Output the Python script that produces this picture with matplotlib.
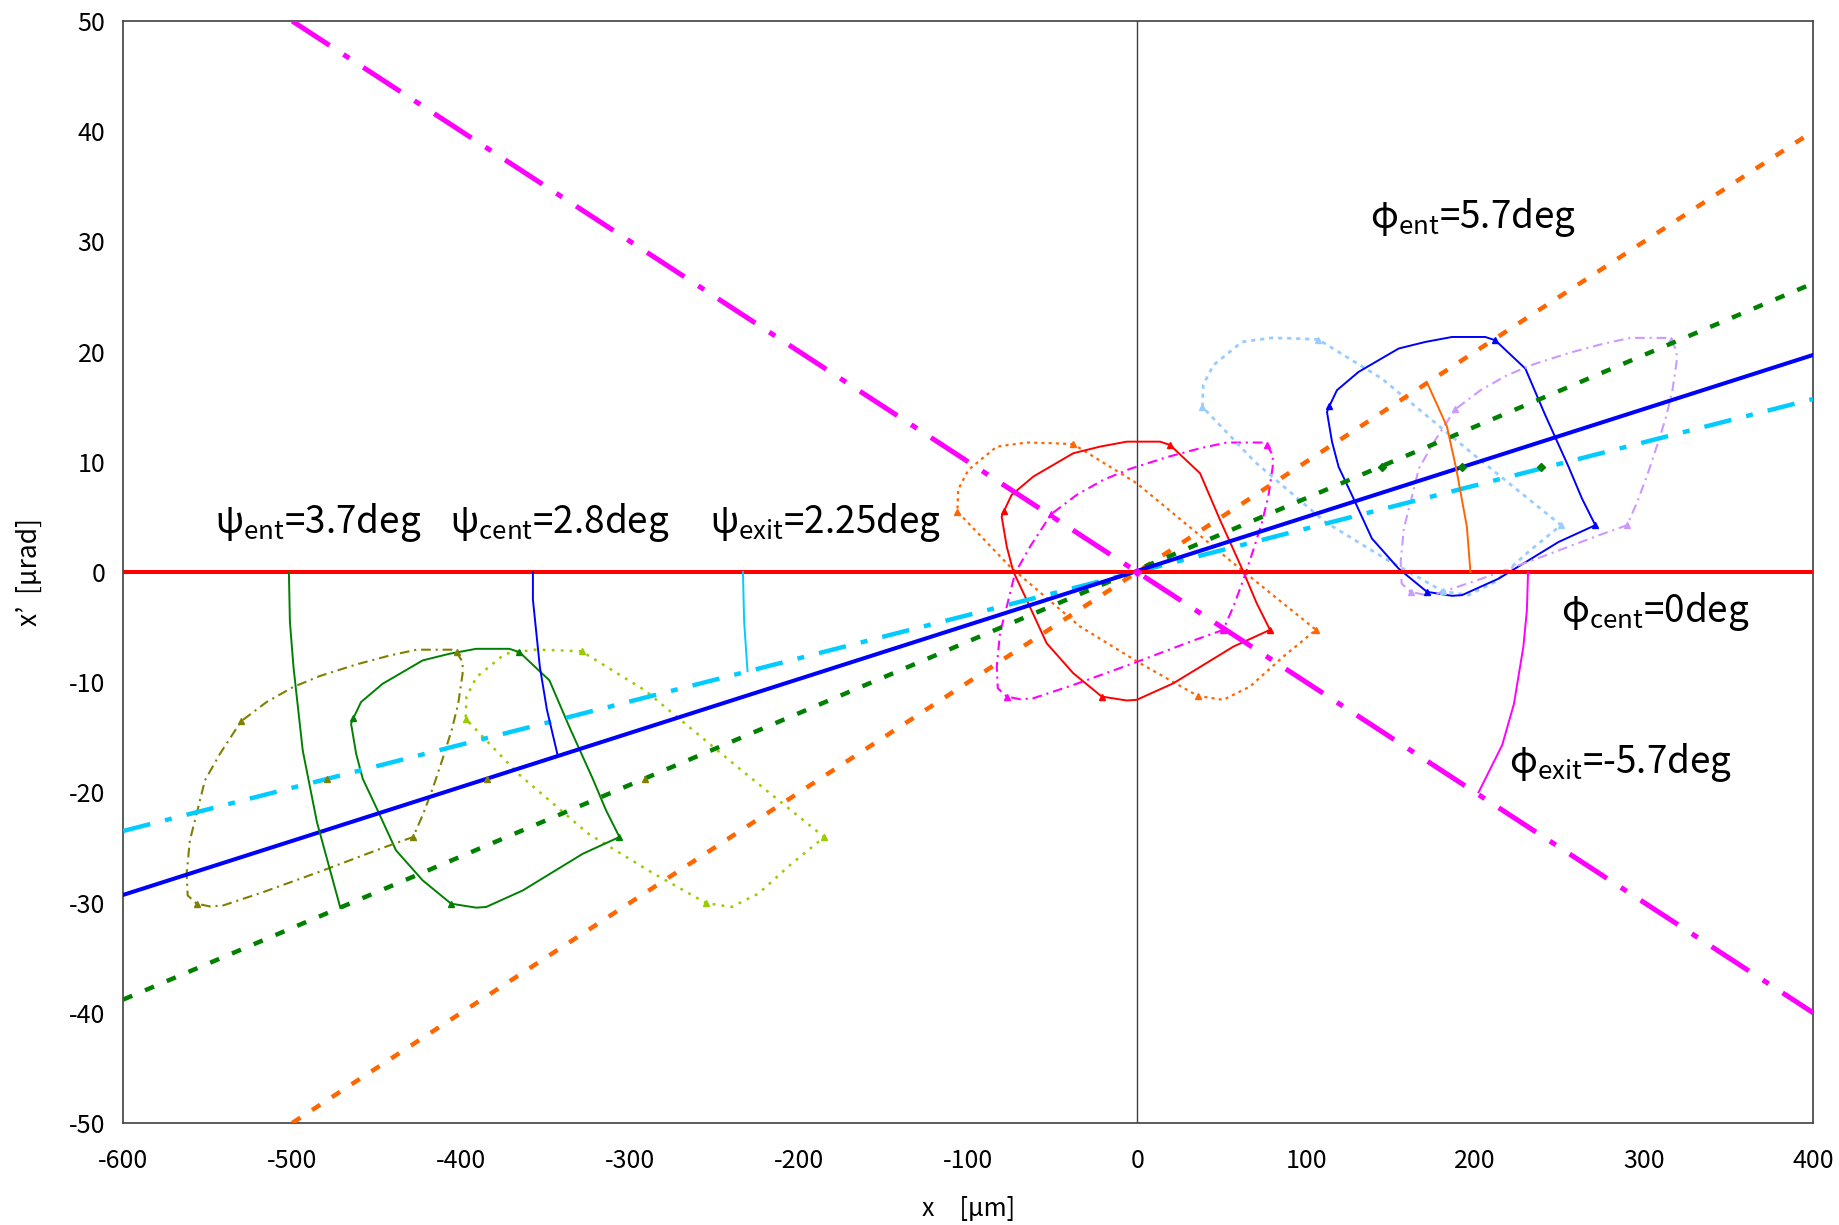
import matplotlib
matplotlib.use('Agg')
import matplotlib.pyplot as plt
import numpy as np

plt.rcParams['font.family'] = ['Noto Sans CJK JP', 'DejaVu Sans']
plt.rcParams['axes.unicode_minus'] = False
plt.rcParams['mathtext.fontset'] = 'custom'
plt.rcParams['mathtext.rm'] = 'Noto Sans CJK JP'
plt.rcParams['mathtext.it'] = 'Noto Sans CJK JP'
plt.rcParams['lines.scale_dashes'] = False

# --- straight lines (end points) ---
full_x = [-600, 400]
psi_ent_y = [-38.8, 26.2]
psi_cent_y = [-29.3, 19.7]
psi_exit_y = [-23.5, 15.7]
phi_cent_y = [0.0, 0.0]
phi_ent_x = [-500, 400]
phi_ent_y = [-50, 40]
phi_exit_x = [-500, 400]
phi_exit_y = [50, -40]

# --- thin angle arcs ---
arc_psi_ent_x = [-502, -501.4, -499.3, -493.8, -485.4, -471.5]
arc_psi_ent_y = [0, -4.5, -8.6, -16.2, -22.7, -30.5]
arc_psi_cent_x = [-357.6, -357.6, -353.5, -349.3, -343]
arc_psi_cent_y = [0, -2.5, -8.6, -12.5, -16.6]
arc_psi_exit_x = [-233.3, -232.6, -230.6]
arc_psi_exit_y = [0, -4.5, -9.0]
arc_phi_ent_x = [171.5, 183.3, 188.9, 195.1, 197.2]
arc_phi_ent_y = [17.2, 13.2, 9.3, 4.1, 0.0]
arc_phi_exit_x = [231.3, 230.6, 228.5, 222.9, 216, 202]
arc_phi_exit_y = [0, -3.5, -6.8, -12.0, -15.7, -20.0]

# --- beam outlines, relative to their centre ---
shape_a_x = [-37.8, -52, -65.4, -83.1, -99.9, -105.9, -106.4, -75.3, -33.8, 1.7,
             35.8, 50.9, 66.7, 86.5, 105.8, 56.9, -0.3, -37.8]
shape_a_y = [11.6, 11.7, 11.75, 11.38, 9.27, 7.5, 5.48, 0.49, -4.95, -8.28,
             -11.24, -11.6, -10.4, -7.67, -5.25, 0.8, 8.06, 11.6]
shape_a_corners = [0, 6, 10, 14]

shape_b_x = [19.4, 37.2, 49, 62.8, 70.7, 78.6, 56.9, 21.4, -0.3, -6.2, -21, -37.8,
             -53.6, -65.4, -73.3, -77.2, -80.2, -78.8, -74.3, -61.5, -37.8, -22,
             -6.2, 13.5, 19.4]
shape_b_y = [11.53, 8.96, 4.73, 0.04, -2.83, -5.25, -6.77, -10.1, -11.6, -11.66, -11.3,
             -9.19, -6.46, -2.53, 0.04, 2.31, 5.03, 5.55, 7.0, 8.66, 10.78, 11.38,
             11.83, 11.83, 11.53]
shape_b_corners = [0, 5, 10, 17]

shape_c_x = [76.6, 80.2, 80.2, 77.6, 73.7, 68.7, 62.8, 56.9, 50.9, 33.2, -2.3, -37.8,
             -61.5, -69.3, -77.2, -82.5, -83.1, -81.2, -77.2, -72.3, -63.4, -50.9,
             -35.8, -20.1, -4.3, 17.5, 37.2, 53, 73.7, 76.6]
shape_c_y = [11.53, 10.63, 9.57, 6.85, 4.43, 2.0, -0.72, -3.14, -5.25, -6.22, -8.28,
             -10.25, -11.46, -11.55, -11.3, -10.55, -8.58, -5.56, -3.14, -0.11, 2.3,
             5.25, 7.0, 8.36, 9.36, 10.42, 11.23, 11.75, 11.75, 11.53]
shape_c_corners = [0, 8, 14, 21]

# centres of the beam outlines
left_cx = [-291, -385, -479.4]
left_cy = -18.8
mid_cx = [0, 0, 0]
mid_cy = 0.0
right_cx = [145, 192.5, 239]
right_cy = 9.5

fig = plt.figure(figsize=(18.4, 12.25), dpi=100)
ax = fig.add_axes([0.067, 0.0833, 0.9184, 0.8995])

# thin beam outlines
shapes = [
    (shape_a_x, shape_a_y, shape_a_corners, left_cx[0], left_cy, '#99CC00', (0, (2, 4.5)), 1.8),
    (shape_b_x, shape_b_y, shape_b_corners, left_cx[1], left_cy, '#008000', '-', 1.4),
    (shape_c_x, shape_c_y, shape_c_corners, left_cx[2], left_cy, '#808000', (0, (7, 3.5, 1.5, 3.5)), 1.5),
    (shape_a_x, shape_a_y, shape_a_corners, mid_cx[0], mid_cy, '#FF6600', (0, (2.2, 3)), 1.6),
    (shape_b_x, shape_b_y, shape_b_corners, mid_cx[1], mid_cy, '#FF0000', '-', 1.4),
    (shape_c_x, shape_c_y, shape_c_corners, mid_cx[2], mid_cy, '#FF00FF', (0, (7, 3.5, 1.5, 3.5)), 1.5),
    (shape_a_x, shape_a_y, shape_a_corners, right_cx[0], right_cy, '#99CCFF', (0, (3, 3.5)), 2.0),
    (shape_b_x, shape_b_y, shape_b_corners, right_cx[1], right_cy, '#0000FF', '-', 1.4),
    (shape_c_x, shape_c_y, shape_c_corners, right_cx[2], right_cy, '#CC99FF', (0, (7, 3.5, 1.5, 3.5)), 1.5),
]
for sx, sy, corners, cx, cy, col, ls, lw in shapes:
    px = np.array(sx) + cx
    py = np.array(sy) + cy
    ax.plot(px, py, color=col, linestyle=ls, linewidth=lw, zorder=3)
    ax.plot(px[corners], py[corners], linestyle='none', marker='^', markersize=4,
            color=col, zorder=4)

# thick lines
ax.plot(phi_exit_x, phi_exit_y, color='#FF00FF', linewidth=3.6,
        linestyle=(0, (32, 12, 5, 12)), zorder=5)
ax.plot(phi_ent_x, phi_ent_y, color='#FF6600', linewidth=3.2,
        linestyle=(0, (7, 10)), zorder=5)
ax.plot(full_x, psi_ent_y, color='#008000', linewidth=3.2,
        linestyle=(0, (7, 10)), zorder=5)
ax.plot(full_x, psi_exit_y, color='#00CCFF', linewidth=3.2,
        linestyle=(0, (20, 11, 5, 11)), zorder=5)
ax.plot(full_x, psi_cent_y, color='#0000FF', linewidth=2.9, zorder=6)
ax.plot(full_x, phi_cent_y, color='#FF0000', linewidth=2.9, zorder=6)

# beam centre markers
ax.plot(left_cx, [left_cy] * 3, linestyle='none', marker='^', markersize=5,
        color='#808000', zorder=7)
ax.plot(right_cx, [right_cy] * 3, linestyle='none', marker='D', markersize=4,
        color='#008000', zorder=7)
ax.plot([0], [0], linestyle='none', marker='D', markersize=4, color='#FF00FF', zorder=7)

# angle arcs
ax.plot(arc_psi_ent_x, arc_psi_ent_y, color='#008000', linewidth=1.4, zorder=6)
ax.plot(arc_psi_cent_x, arc_psi_cent_y, color='#0000FF', linewidth=1.4, zorder=6)
ax.plot(arc_psi_exit_x, arc_psi_exit_y, color='#00CCFF', linewidth=1.4, zorder=6)
ax.plot(arc_phi_ent_x, arc_phi_ent_y, color='#FF6600', linewidth=1.4, zorder=6)
ax.plot(arc_phi_exit_x, arc_phi_exit_y, color='#FF00FF', linewidth=1.4, zorder=6)

ax.axvline(0, color='#404040', linewidth=1.0, zorder=2)

# annotations
labels = [
    ('ψ', 'ent', '3.7deg', -545.8, 4.5),
    ('ψ', 'cent', '2.8deg', -406.9, 4.5),
    ('ψ', 'exit', '2.25deg', -252.8, 4.5),
    ('φ', 'ent', '5.7deg', 137.5, 32.2),
    ('φ', 'cent', '0deg', 250.7, -3.6),
    ('φ', 'exit', '-5.7deg', 220.1, -17.3),
]
for g, sub, val, tx, ty in labels:
    ax.text(tx, ty, g + r'$_{\rm ' + sub + '}$=' + val, fontsize=26.5,
            ha='left', va='center', zorder=8)

ax.set_xlim(-600, 400)
ax.set_ylim(-50, 50)
ax.set_xticks(np.arange(-600, 401, 100))
ax.set_yticks(np.arange(-50, 51, 10))
ax.tick_params(axis='both', length=0, labelsize=18)
ax.tick_params(axis='x', pad=18)
ax.tick_params(axis='y', pad=13)
for sp in ax.spines.values():
    sp.set_color('#404040')
    sp.set_linewidth(1.2)

ax.set_xlabel('x\u3000[μm]', fontsize=18, va='center')
ax.xaxis.set_label_coords(0.5, -0.078)
ax.set_ylabel('x’  [μrad]', fontsize=19, va='center')
ax.yaxis.set_label_coords(-0.0556, 0.5)

fig.savefig('out.png', dpi=100)
